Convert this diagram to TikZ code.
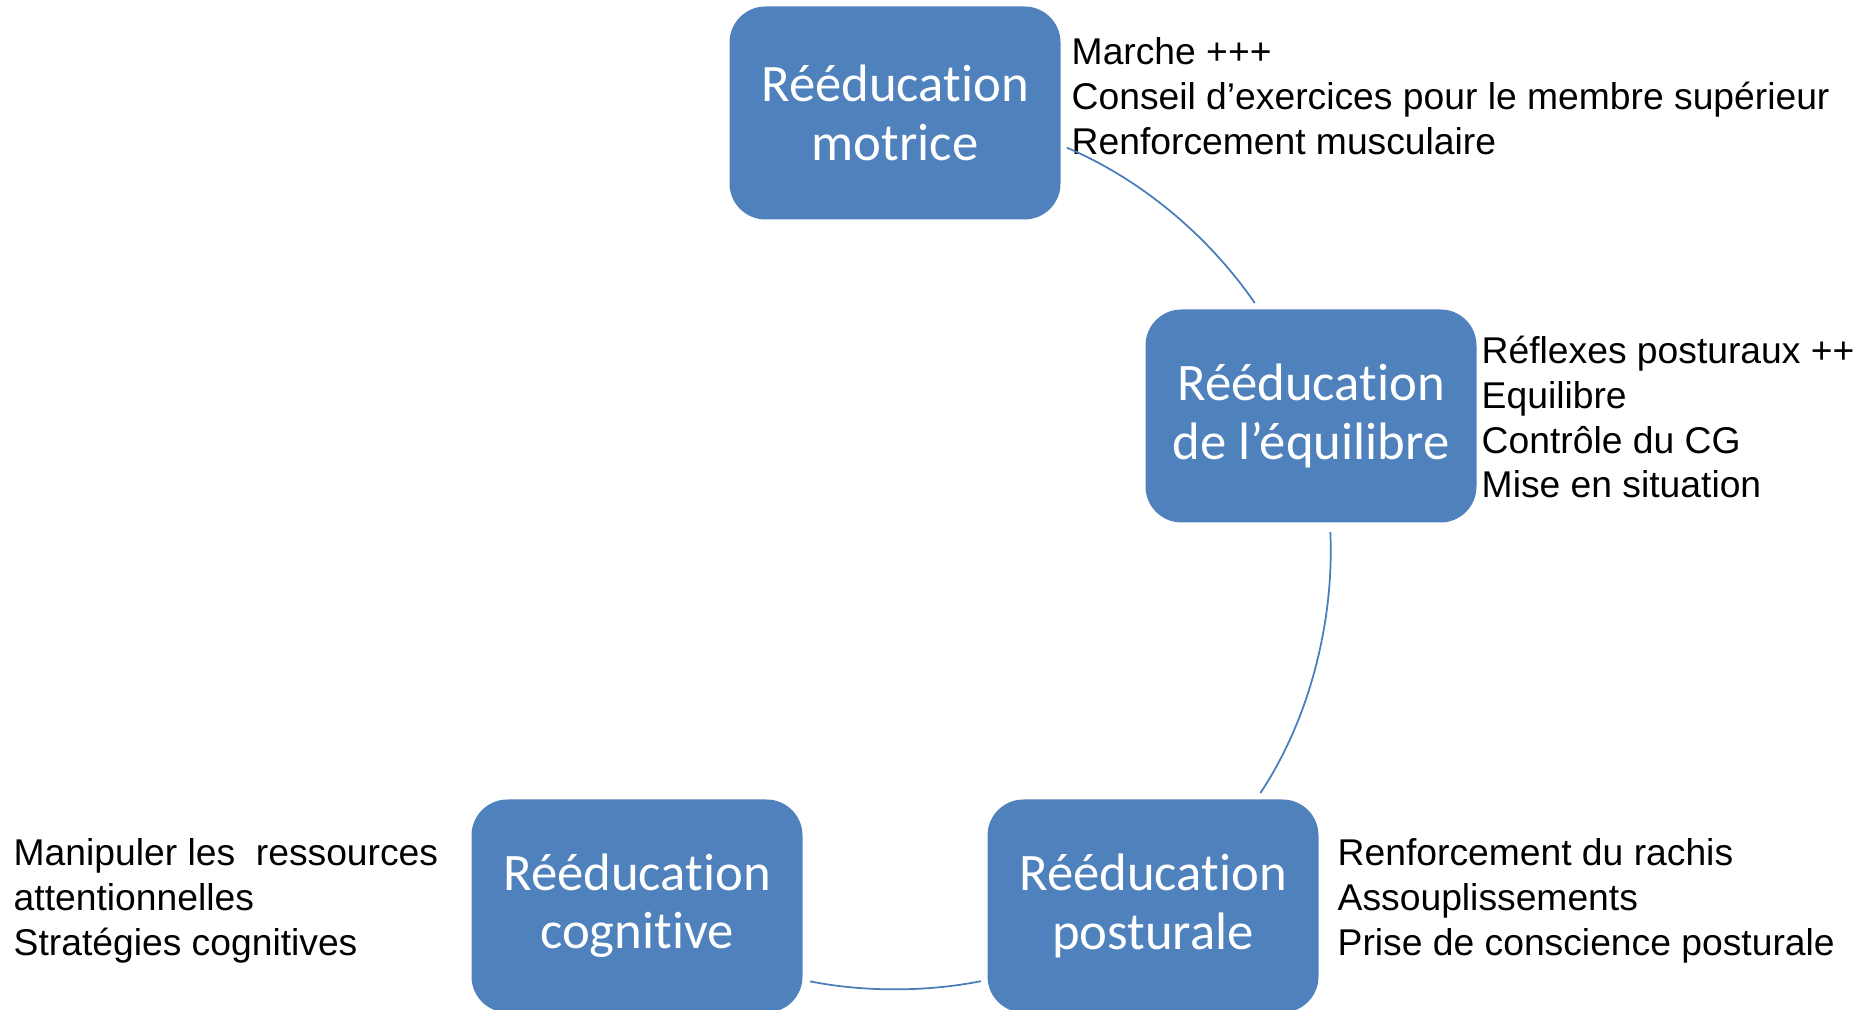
\documentclass[tikz,border=0pt]{standalone}
\usepackage{fontspec}
\setmainfont{Liberation Sans}
\newfontfamily\boxfont[Ligatures=NoCommon]{Carlito}
\definecolor{stageblue}{HTML}{4F81BD}
\definecolor{linkblue}{HTML}{4A7EBB}

\begin{document}
\begin{tikzpicture}[x=0.1mm, y=0.1mm,
	every node/.style={font=\fontsize{10.6}{12.7}\selectfont},
	stage/.style={fill=stageblue, rounded corners=3.6mm, minimum width=33.1mm, minimum height=21.3mm, inner sep=0pt, text=white, align=center, font=\boxfont\fontsize{15}{16.6}\selectfont},
	notes/.style={anchor=north west, inner sep=0pt, align=left},
	link/.style={draw=linkblue, line width=0.5pt}]
	\useasboundingbox (0,0) rectangle (1872,1010);
	\node[stage] (motrice) at (895,897) {Rééducation\\motrice};
	\node[stage] (equilibre) at (1311,594) {Rééducation\\de l’équilibre};
	\node[stage] (posturale) at (1153,104) {Rééducation\\posturale};
	\node[stage] (cognitive) at (637,104) {Rééducation\\cognitive};
	\node[notes] (motrice-notes) at (1071,977) {\strut Marche +++\\Conseil d’exercices pour le membre supérieur\\Renforcement musculaire};
	\node[notes] (equilibre-notes) at (1481,678) {\strut Réflexes posturaux ++\\Equilibre\\Contrôle du CG\\Mise en situation};
	\node[notes] (posturale-notes) at (1337,176) {\strut Renforcement du rachis\\Assouplissements\\Prise de conscience posturale};
	\node[notes] (cognitive-notes) at (13,176) {\strut Manipuler les \ ressources\\attentionnelles\\Stratégies cognitives};
	\draw[link, shorten <=0.6mm, shorten >=0.7mm] (motrice.-11) to[out=-23, in=124.5, looseness=0.87] (equilibre.116);
	\draw[link, shorten <=0.9mm, shorten >=0.7mm] (equilibre.-80) to[out=-87.4, in=56.4, looseness=0.87] (posturale.46);
	\draw[link, shorten <=0.6mm, shorten >=0.7mm] (posturale.-156) to[out=-168.7, in=-11.3, looseness=0.86] (cognitive.-24);
\end{tikzpicture}
\end{document}
